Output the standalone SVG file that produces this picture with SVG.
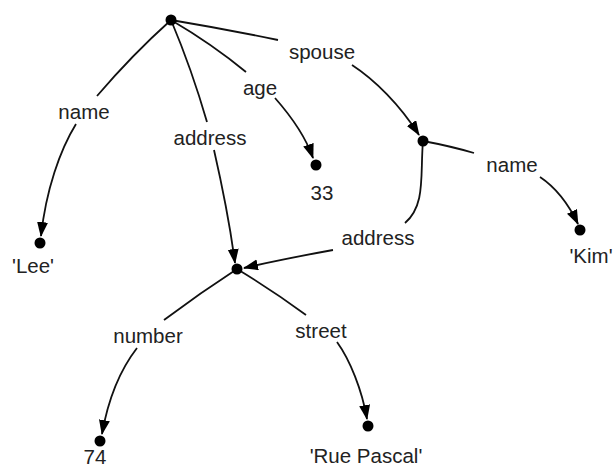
<svg xmlns="http://www.w3.org/2000/svg" width="614" height="470" viewBox="0 0 614 470">
<style>
.n{fill:#000}
.e{fill:none;stroke:#111;stroke-width:1.8}
.a{marker-end:url(#arr)}
text{font-family:"Liberation Sans",Arial,sans-serif;font-size:20.5px;fill:#222;text-anchor:middle}
</style>
<defs>
<marker id="arr" markerUnits="userSpaceOnUse" markerWidth="16" markerHeight="12" refX="14" refY="5.5" orient="auto">
<path d="M0,0 L15,5.5 L0,11 z" fill="#000"/>
</marker>
</defs>
<rect width="614" height="470" fill="#fff"/>
<g id="connectors">
<path class="e" d="M171,20 Q132,55 97,96"/>
<text x="84" y="119">name</text>
<path class="e a" d="M76,124 C60,150 46,190 41,236"/>
<path class="e" d="M171,20 Q192,70 207,122"/>
<text x="210" y="145">address</text>
<path class="e a" d="M214,150 C222,185 230,225 235,263"/>
<path class="e" d="M171,20 Q212,44 246,72"/>
<text x="260" y="95">age</text>
<path class="e a" d="M275,98 C290,115 305,135 313,158"/>
<path class="e" d="M171,20 Q225,29 278,40"/>
<text x="322" y="59">spouse</text>
<path class="e a" d="M352,65 C375,80 400,105 419,135"/>
<path class="e" d="M423,141 Q450,146 474,153"/>
<text x="512" y="172">name</text>
<path class="e a" d="M540,177 C555,187 568,203 578,224"/>
<path class="e" d="M423,141 C420,175 426,205 405,223"/>
<text x="378" y="245">address</text>
<path class="e a" d="M333,250 C300,256 270,262 244,268"/>
<path class="e" d="M237,269 Q200,293 164,320"/>
<text x="148" y="343">number</text>
<path class="e a" d="M137,348 C120,370 108,400 102,434"/>
<path class="e" d="M237,269 Q272,290 306,315"/>
<text x="321" y="338">street</text>
<path class="e a" d="M337,342 C350,360 362,390 367,419"/>
</g>
<g id="root"><circle class="n" cx="171" cy="20" r="5.5"/></g>
<g id="lee"><circle class="n" cx="40" cy="243" r="5.5"/><text x="33" y="273">'Lee'</text></g>
<g id="age33"><circle class="n" cx="316" cy="165" r="5.5"/><text x="322" y="200">33</text></g>
<g id="spouse"><circle class="n" cx="423" cy="141" r="5.5"/></g>
<g id="kim"><circle class="n" cx="580" cy="230" r="5.5"/><text x="591" y="263">'Kim'</text></g>
<g id="address"><circle class="n" cx="237" cy="269" r="5.5"/></g>
<g id="n74"><circle class="n" cx="100" cy="441" r="5.5"/><text x="95" y="464">74</text></g>
<g id="rue"><circle class="n" cx="368" cy="426" r="5.5"/><text x="366" y="463">'Rue Pascal'</text></g>
</svg>
